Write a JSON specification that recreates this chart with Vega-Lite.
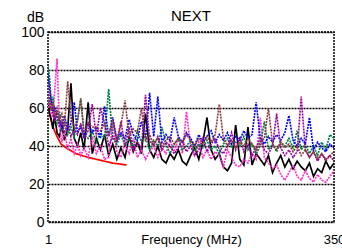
{
"$schema":"https://vega.github.io/schema/vega-lite/v6.json",
"width":286,"height":190,
"autosize":{"type":"none"},
"padding":{"left":48,"top":32,"right":8,"bottom":30},
"background":"white",
"title":{"text":"NEXT","font":"Liberation Sans","fontSize":15,"fontWeight":"normal","color":"#000","offset":-14,"anchor":"middle"},
"data":{"values":[
{"s":"red","f":1,"v":61},{"s":"red","f":3,"v":57},{"s":"red","f":5,"v":53},{"s":"red","f":8,"v":49},{"s":"red","f":12,"v":45},{"s":"red","f":17,"v":41},{"s":"red","f":25,"v":38.5},{"s":"red","f":35,"v":36},{"s":"red","f":50,"v":34},{"s":"red","f":65,"v":32.5},{"s":"red","f":80,"v":31},{"s":"red","f":97,"v":30},
{"s":"k","f":1,"v":63},{"s":"k","f":3,"v":57},{"s":"k","f":5,"v":54},{"s":"k","f":7,"v":49},{"s":"k","f":9,"v":56},{"s":"k","f":12,"v":47},{"s":"k","f":15,"v":45},{"s":"k","f":18,"v":51},{"s":"k","f":21,"v":43},{"s":"k","f":25,"v":49},{"s":"k","f":29,"v":73},{"s":"k","f":33,"v":44},{"s":"k","f":37,"v":40},{"s":"k","f":41,"v":47},{"s":"k","f":45,"v":38},{"s":"k","f":50,"v":63},{"s":"k","f":55,"v":36},{"s":"k","f":60,"v":44},{"s":"k","f":65,"v":38},{"s":"k","f":70,"v":46},{"s":"k","f":75,"v":35},{"s":"k","f":80,"v":41},{"s":"k","f":85,"v":33},{"s":"k","f":90,"v":39},{"s":"k","f":95,"v":34},{"s":"k","f":100,"v":45},{"s":"k","f":105,"v":37},{"s":"k","f":110,"v":42},{"s":"k","f":115,"v":36},{"s":"k","f":120,"v":57},{"s":"k","f":125,"v":38},{"s":"k","f":130,"v":34},{"s":"k","f":135,"v":40},{"s":"k","f":140,"v":33},{"s":"k","f":145,"v":31},{"s":"k","f":150,"v":36},{"s":"k","f":155,"v":33},{"s":"k","f":160,"v":38},{"s":"k","f":165,"v":32},{"s":"k","f":170,"v":30},{"s":"k","f":175,"v":35},{"s":"k","f":180,"v":39},{"s":"k","f":185,"v":33},{"s":"k","f":190,"v":42},{"s":"k","f":195,"v":55},{"s":"k","f":200,"v":38},{"s":"k","f":205,"v":33},{"s":"k","f":210,"v":36},{"s":"k","f":215,"v":29},{"s":"k","f":220,"v":27},{"s":"k","f":225,"v":31},{"s":"k","f":230,"v":51},{"s":"k","f":235,"v":33},{"s":"k","f":240,"v":30},{"s":"k","f":245,"v":50},{"s":"k","f":250,"v":30},{"s":"k","f":255,"v":36},{"s":"k","f":260,"v":33},{"s":"k","f":265,"v":30},{"s":"k","f":270,"v":35},{"s":"k","f":275,"v":26},{"s":"k","f":280,"v":31},{"s":"k","f":285,"v":35},{"s":"k","f":290,"v":29},{"s":"k","f":295,"v":33},{"s":"k","f":300,"v":28},{"s":"k","f":305,"v":32},{"s":"k","f":310,"v":29},{"s":"k","f":315,"v":27},{"s":"k","f":320,"v":31},{"s":"k","f":325,"v":24},{"s":"k","f":330,"v":28},{"s":"k","f":335,"v":26},{"s":"k","f":340,"v":32},{"s":"k","f":345,"v":28},{"s":"k","f":350,"v":31},
{"s":"p","f":1,"v":60},{"s":"p","f":3,"v":66},{"s":"p","f":5,"v":57},{"s":"p","f":7,"v":55},{"s":"p","f":9,"v":68},{"s":"p","f":12,"v":86},{"s":"p","f":15,"v":50},{"s":"p","f":18,"v":42},{"s":"p","f":21,"v":48},{"s":"p","f":25,"v":38},{"s":"p","f":29,"v":44},{"s":"p","f":33,"v":36},{"s":"p","f":37,"v":41},{"s":"p","f":41,"v":35},{"s":"p","f":45,"v":39},{"s":"p","f":50,"v":34},{"s":"p","f":55,"v":45},{"s":"p","f":60,"v":36},{"s":"p","f":65,"v":40},{"s":"p","f":70,"v":33},{"s":"p","f":75,"v":34},{"s":"p","f":80,"v":52},{"s":"p","f":85,"v":37},{"s":"p","f":90,"v":34},{"s":"p","f":95,"v":41},{"s":"p","f":100,"v":36},{"s":"p","f":105,"v":44},{"s":"p","f":110,"v":34},{"s":"p","f":115,"v":38},{"s":"p","f":120,"v":33},{"s":"p","f":125,"v":37},{"s":"p","f":130,"v":40},{"s":"p","f":135,"v":34},{"s":"p","f":140,"v":39},{"s":"p","f":145,"v":36},{"s":"p","f":150,"v":43},{"s":"p","f":155,"v":37},{"s":"p","f":160,"v":44},{"s":"p","f":165,"v":36},{"s":"p","f":170,"v":58},{"s":"p","f":175,"v":40},{"s":"p","f":180,"v":35},{"s":"p","f":185,"v":42},{"s":"p","f":190,"v":34},{"s":"p","f":195,"v":38},{"s":"p","f":200,"v":33},{"s":"p","f":205,"v":37},{"s":"p","f":210,"v":35},{"s":"p","f":215,"v":29},{"s":"p","f":220,"v":38},{"s":"p","f":225,"v":34},{"s":"p","f":230,"v":30},{"s":"p","f":235,"v":29},{"s":"p","f":240,"v":33},{"s":"p","f":245,"v":31},{"s":"p","f":250,"v":36},{"s":"p","f":255,"v":33},{"s":"p","f":260,"v":55},{"s":"p","f":265,"v":34},{"s":"p","f":270,"v":31},{"s":"p","f":275,"v":28},{"s":"p","f":280,"v":30},{"s":"p","f":285,"v":25},{"s":"p","f":290,"v":22},{"s":"p","f":295,"v":26},{"s":"p","f":300,"v":30},{"s":"p","f":305,"v":24},{"s":"p","f":310,"v":22},{"s":"p","f":315,"v":27},{"s":"p","f":320,"v":23},{"s":"p","f":325,"v":21},{"s":"p","f":330,"v":25},{"s":"p","f":335,"v":22},{"s":"p","f":340,"v":21},{"s":"p","f":345,"v":24},{"s":"p","f":350,"v":27},
{"s":"g","f":1,"v":82},{"s":"g","f":3,"v":76},{"s":"g","f":5,"v":62},{"s":"g","f":7,"v":66},{"s":"g","f":9,"v":55},{"s":"g","f":12,"v":52},{"s":"g","f":15,"v":58},{"s":"g","f":18,"v":48},{"s":"g","f":21,"v":53},{"s":"g","f":25,"v":46},{"s":"g","f":29,"v":50},{"s":"g","f":33,"v":45},{"s":"g","f":37,"v":54},{"s":"g","f":41,"v":65},{"s":"g","f":45,"v":46},{"s":"g","f":50,"v":44},{"s":"g","f":55,"v":48},{"s":"g","f":60,"v":42},{"s":"g","f":65,"v":47},{"s":"g","f":70,"v":44},{"s":"g","f":75,"v":70},{"s":"g","f":80,"v":44},{"s":"g","f":85,"v":41},{"s":"g","f":90,"v":46},{"s":"g","f":95,"v":40},{"s":"g","f":100,"v":44},{"s":"g","f":105,"v":39},{"s":"g","f":110,"v":48},{"s":"g","f":115,"v":42},{"s":"g","f":120,"v":45},{"s":"g","f":125,"v":38},{"s":"g","f":130,"v":43},{"s":"g","f":135,"v":40},{"s":"g","f":140,"v":50},{"s":"g","f":145,"v":41},{"s":"g","f":150,"v":36},{"s":"g","f":155,"v":41},{"s":"g","f":160,"v":44},{"s":"g","f":165,"v":38},{"s":"g","f":170,"v":40},{"s":"g","f":175,"v":43},{"s":"g","f":180,"v":37},{"s":"g","f":185,"v":41},{"s":"g","f":190,"v":39},{"s":"g","f":195,"v":43},{"s":"g","f":200,"v":38},{"s":"g","f":205,"v":40},{"s":"g","f":210,"v":36},{"s":"g","f":215,"v":41},{"s":"g","f":220,"v":44},{"s":"g","f":225,"v":39},{"s":"g","f":230,"v":42},{"s":"g","f":235,"v":40},{"s":"g","f":240,"v":45},{"s":"g","f":245,"v":38},{"s":"g","f":250,"v":41},{"s":"g","f":255,"v":36},{"s":"g","f":260,"v":40},{"s":"g","f":265,"v":53},{"s":"g","f":270,"v":38},{"s":"g","f":275,"v":41},{"s":"g","f":280,"v":37},{"s":"g","f":285,"v":42},{"s":"g","f":290,"v":40},{"s":"g","f":295,"v":44},{"s":"g","f":300,"v":39},{"s":"g","f":305,"v":48},{"s":"g","f":310,"v":38},{"s":"g","f":315,"v":41},{"s":"g","f":320,"v":36},{"s":"g","f":325,"v":40},{"s":"g","f":330,"v":35},{"s":"g","f":335,"v":42},{"s":"g","f":340,"v":38},{"s":"g","f":345,"v":46},{"s":"g","f":350,"v":44},
{"s":"b","f":1,"v":78},{"s":"b","f":3,"v":70},{"s":"b","f":5,"v":64},{"s":"b","f":7,"v":58},{"s":"b","f":9,"v":60},{"s":"b","f":12,"v":55},{"s":"b","f":15,"v":53},{"s":"b","f":18,"v":50},{"s":"b","f":21,"v":56},{"s":"b","f":25,"v":49},{"s":"b","f":29,"v":52},{"s":"b","f":33,"v":63},{"s":"b","f":37,"v":47},{"s":"b","f":41,"v":50},{"s":"b","f":45,"v":45},{"s":"b","f":50,"v":52},{"s":"b","f":55,"v":47},{"s":"b","f":60,"v":50},{"s":"b","f":65,"v":44},{"s":"b","f":70,"v":61},{"s":"b","f":75,"v":45},{"s":"b","f":80,"v":55},{"s":"b","f":85,"v":43},{"s":"b","f":90,"v":47},{"s":"b","f":95,"v":44},{"s":"b","f":100,"v":54},{"s":"b","f":105,"v":46},{"s":"b","f":110,"v":43},{"s":"b","f":115,"v":53},{"s":"b","f":120,"v":44},{"s":"b","f":125,"v":68},{"s":"b","f":130,"v":45},{"s":"b","f":135,"v":66},{"s":"b","f":140,"v":42},{"s":"b","f":145,"v":46},{"s":"b","f":150,"v":43},{"s":"b","f":155,"v":55},{"s":"b","f":160,"v":45},{"s":"b","f":165,"v":42},{"s":"b","f":170,"v":47},{"s":"b","f":175,"v":44},{"s":"b","f":180,"v":40},{"s":"b","f":185,"v":46},{"s":"b","f":190,"v":42},{"s":"b","f":195,"v":45},{"s":"b","f":200,"v":48},{"s":"b","f":205,"v":42},{"s":"b","f":210,"v":46},{"s":"b","f":215,"v":43},{"s":"b","f":220,"v":47},{"s":"b","f":225,"v":41},{"s":"b","f":230,"v":45},{"s":"b","f":235,"v":43},{"s":"b","f":240,"v":48},{"s":"b","f":245,"v":44},{"s":"b","f":250,"v":46},{"s":"b","f":255,"v":63},{"s":"b","f":260,"v":44},{"s":"b","f":265,"v":41},{"s":"b","f":270,"v":45},{"s":"b","f":275,"v":42},{"s":"b","f":280,"v":46},{"s":"b","f":285,"v":43},{"s":"b","f":290,"v":47},{"s":"b","f":295,"v":56},{"s":"b","f":300,"v":43},{"s":"b","f":305,"v":40},{"s":"b","f":310,"v":44},{"s":"b","f":315,"v":41},{"s":"b","f":320,"v":55},{"s":"b","f":325,"v":38},{"s":"b","f":330,"v":42},{"s":"b","f":335,"v":39},{"s":"b","f":340,"v":37},{"s":"b","f":345,"v":41},{"s":"b","f":350,"v":39},
{"s":"m","f":1,"v":72},{"s":"m","f":3,"v":62},{"s":"m","f":5,"v":60},{"s":"m","f":7,"v":57},{"s":"m","f":9,"v":53},{"s":"m","f":12,"v":58},{"s":"m","f":15,"v":50},{"s":"m","f":18,"v":54},{"s":"m","f":21,"v":47},{"s":"m","f":25,"v":51},{"s":"m","f":29,"v":45},{"s":"m","f":33,"v":49},{"s":"m","f":37,"v":46},{"s":"m","f":41,"v":52},{"s":"m","f":45,"v":44},{"s":"m","f":50,"v":48},{"s":"m","f":55,"v":62},{"s":"m","f":60,"v":45},{"s":"m","f":65,"v":60},{"s":"m","f":70,"v":52},{"s":"m","f":75,"v":40},{"s":"m","f":80,"v":45},{"s":"m","f":85,"v":42},{"s":"m","f":90,"v":53},{"s":"m","f":95,"v":40},{"s":"m","f":100,"v":50},{"s":"m","f":105,"v":38},{"s":"m","f":110,"v":42},{"s":"m","f":115,"v":39},{"s":"m","f":120,"v":67},{"s":"m","f":125,"v":43},{"s":"m","f":130,"v":40},{"s":"m","f":135,"v":45},{"s":"m","f":140,"v":38},{"s":"m","f":145,"v":42},{"s":"m","f":150,"v":40},{"s":"m","f":155,"v":36},{"s":"m","f":160,"v":39},{"s":"m","f":165,"v":43},{"s":"m","f":170,"v":37},{"s":"m","f":175,"v":40},{"s":"m","f":180,"v":35},{"s":"m","f":185,"v":38},{"s":"m","f":190,"v":44},{"s":"m","f":195,"v":37},{"s":"m","f":200,"v":41},{"s":"m","f":205,"v":44},{"s":"m","f":210,"v":38},{"s":"m","f":215,"v":36},{"s":"m","f":220,"v":40},{"s":"m","f":225,"v":47},{"s":"m","f":230,"v":38},{"s":"m","f":235,"v":45},{"s":"m","f":240,"v":37},{"s":"m","f":245,"v":41},{"s":"m","f":250,"v":35},{"s":"m","f":255,"v":39},{"s":"m","f":260,"v":44},{"s":"m","f":265,"v":38},{"s":"m","f":270,"v":36},{"s":"m","f":275,"v":40},{"s":"m","f":280,"v":57},{"s":"m","f":285,"v":39},{"s":"m","f":290,"v":35},{"s":"m","f":295,"v":38},{"s":"m","f":300,"v":34},{"s":"m","f":305,"v":37},{"s":"m","f":310,"v":66},{"s":"m","f":315,"v":38},{"s":"m","f":320,"v":34},{"s":"m","f":325,"v":37},{"s":"m","f":330,"v":32},{"s":"m","f":335,"v":36},{"s":"m","f":340,"v":33},{"s":"m","f":345,"v":35},{"s":"m","f":350,"v":32},
{"s":"r","f":1,"v":66},{"s":"r","f":3,"v":62},{"s":"r","f":5,"v":59},{"s":"r","f":7,"v":63},{"s":"r","f":9,"v":56},{"s":"r","f":12,"v":60},{"s":"r","f":15,"v":54},{"s":"r","f":18,"v":57},{"s":"r","f":21,"v":50},{"s":"r","f":25,"v":74},{"s":"r","f":29,"v":55},{"s":"r","f":33,"v":50},{"s":"r","f":37,"v":53},{"s":"r","f":41,"v":65},{"s":"r","f":45,"v":47},{"s":"r","f":50,"v":52},{"s":"r","f":55,"v":50},{"s":"r","f":60,"v":50},{"s":"r","f":65,"v":48},{"s":"r","f":70,"v":52},{"s":"r","f":75,"v":45},{"s":"r","f":80,"v":54},{"s":"r","f":85,"v":43},{"s":"r","f":90,"v":51},{"s":"r","f":95,"v":64},{"s":"r","f":100,"v":45},{"s":"r","f":105,"v":49},{"s":"r","f":110,"v":47},{"s":"r","f":115,"v":60},{"s":"r","f":120,"v":43},{"s":"r","f":125,"v":46},{"s":"r","f":130,"v":41},{"s":"r","f":135,"v":44},{"s":"r","f":140,"v":40},{"s":"r","f":145,"v":43},{"s":"r","f":150,"v":45},{"s":"r","f":155,"v":41},{"s":"r","f":160,"v":44},{"s":"r","f":165,"v":42},{"s":"r","f":170,"v":46},{"s":"r","f":175,"v":43},{"s":"r","f":180,"v":40},{"s":"r","f":185,"v":44},{"s":"r","f":190,"v":41},{"s":"r","f":195,"v":45},{"s":"r","f":200,"v":42},{"s":"r","f":205,"v":46},{"s":"r","f":210,"v":62},{"s":"r","f":215,"v":44},{"s":"r","f":220,"v":40},{"s":"r","f":225,"v":43},{"s":"r","f":230,"v":39},{"s":"r","f":235,"v":42},{"s":"r","f":240,"v":40},{"s":"r","f":245,"v":44},{"s":"r","f":250,"v":41},{"s":"r","f":255,"v":38},{"s":"r","f":260,"v":42},{"s":"r","f":265,"v":44},{"s":"r","f":270,"v":60},{"s":"r","f":275,"v":41},{"s":"r","f":280,"v":38},{"s":"r","f":285,"v":42},{"s":"r","f":290,"v":39},{"s":"r","f":295,"v":41},{"s":"r","f":300,"v":37},{"s":"r","f":305,"v":40},{"s":"r","f":310,"v":35},{"s":"r","f":315,"v":38},{"s":"r","f":320,"v":34},{"s":"r","f":325,"v":37},{"s":"r","f":330,"v":33},{"s":"r","f":335,"v":36},{"s":"r","f":340,"v":32},{"s":"r","f":345,"v":35},{"s":"r","f":350,"v":37}
]},
"mark":{"type":"line","clip":true},
"encoding":{
"x":{"field":"f","type":"quantitative","scale":{"domain":[1,350],"nice":false,"zero":false},
"axis":{"values":[1,350],"title":"Frequency (MHz)","grid":false,"ticks":false,"domain":false,"labelPadding":21,"labelBaseline":"alphabetic","labelFlush":false,"titleY":21,"titleBaseline":"alphabetic","titleFontSize":13,"titleFontWeight":"normal"}},
"y":{"field":"v","type":"quantitative","scale":{"domain":[0,100],"nice":false},
"axis":{"values":[0,20,40,60,80,100],"title":"dB","titleAngle":0,"titleX":-13,"titleY":-15,"titleAlign":"center","titleBaseline":"middle","titleFontSize":14,"titleFontWeight":"normal","grid":true,"gridColor":"#000","gridDash":[2,1],"gridWidth":1.5,"gridOpacity":1,"ticks":false,"domain":false,"labelPadding":4,"labelFontSize":14}},
"color":{"field":"s","type":"nominal","legend":null,"scale":{"domain":["red","k","p","g","b","m","r"],"range":["#FF0000","#000000","#FF33CC","#008040","#0000FF","#990099","#8B3A3A"]}},
"strokeDash":{"field":"s","type":"nominal","legend":null,"scale":{"domain":["red","k","p","g","b","m","r"],"range":[[1,0],[1,0],[2,1],[2,1],[2,1],[2,1],[2,1]]}},
"strokeWidth":{"field":"s","type":"nominal","legend":null,"scale":{"domain":["red","k","p","g","b","m","r"],"range":[1.7,1.6,2.6,2.6,2.6,2.6,2.6]}}
},
"config":{
"font":"Liberation Sans",
"view":{"stroke":"#000","strokeDash":[2,1],"strokeWidth":1.5},
"axis":{"labelFont":"Liberation Sans","titleFont":"Liberation Sans","labelColor":"#000","titleColor":"#000","labelFontSize":13}
}
}
